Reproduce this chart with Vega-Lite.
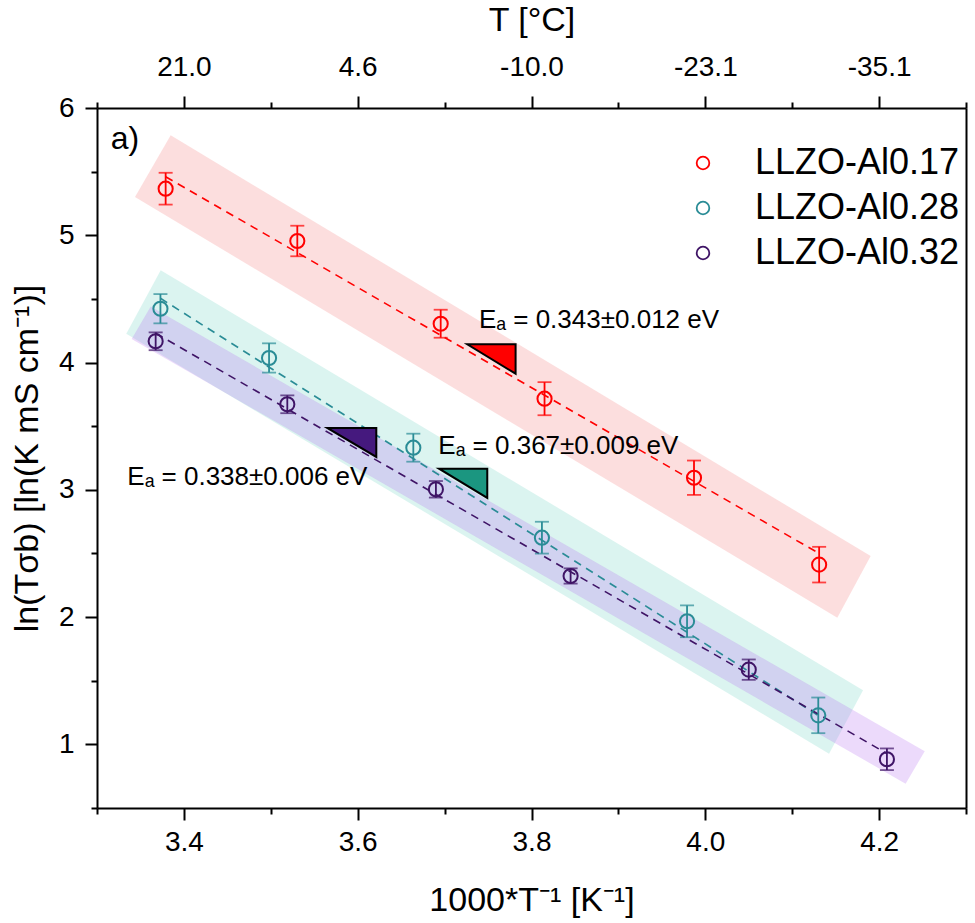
{
  "$schema": "https://vega.github.io/schema/vega-lite/v6.json",
  "width": 869,
  "height": 700,
  "padding": {"left": 10, "top": 3, "right": 5, "bottom": 5},
  "background": "white",
  "config": {
    "view": {"stroke": null},
    "font": "Liberation Sans",
    "axis": {
      "grid": false,
      "domainColor": "black",
      "domainWidth": 2,
      "tickColor": "black",
      "tickWidth": 2,
      "labelColor": "black",
      "titleColor": "black",
      "labelFont": "Liberation Sans",
      "titleFont": "Liberation Sans",
      "labelFontSize": 28,
      "titleFontSize": 34,
      "titleFontWeight": "normal",
      "labelOverlap": false,
      "labelFlush": false
    },
    "legend": {
      "labelFontSize": 36,
      "labelFont": "Liberation Sans",
      "labelColor": "black",
      "labelLimit": 500,
      "symbolType": "circle",
      "symbolSize": 160,
      "symbolStrokeWidth": 1.8,
      "labelOffset": 34,
      "rowPadding": 9,
      "padding": 0
    }
  },
  "datasets": {
    "bands": [
      {"series": "LLZO-Al0.17", "order": 1, "x": 3.3848, "y": 5.785},
      {"series": "LLZO-Al0.17", "order": 2, "x": 4.1903, "y": 2.48},
      {"series": "LLZO-Al0.17", "order": 3, "x": 4.1519, "y": 1.995},
      {"series": "LLZO-Al0.17", "order": 4, "x": 3.3437, "y": 5.301},
      {"series": "LLZO-Al0.28", "order": 1, "x": 3.3733, "y": 4.725},
      {"series": "LLZO-Al0.28", "order": 2, "x": 4.1815, "y": 1.425},
      {"series": "LLZO-Al0.28", "order": 3, "x": 4.1424, "y": 0.927},
      {"series": "LLZO-Al0.28", "order": 4, "x": 3.3337, "y": 4.227},
      {"series": "LLZO-Al0.32", "order": 1, "x": 3.3618, "y": 4.44},
      {"series": "LLZO-Al0.32", "order": 2, "x": 4.2525, "y": 0.946},
      {"series": "LLZO-Al0.32", "order": 3, "x": 4.2305, "y": 0.691},
      {"series": "LLZO-Al0.32", "order": 4, "x": 3.3399, "y": 4.185}
    ],
    "points": [
      {"series": "LLZO-Al0.17", "x": 3.379, "y": 5.366, "err": 0.125},
      {"series": "LLZO-Al0.17", "x": 3.5305, "y": 4.955, "err": 0.12},
      {"series": "LLZO-Al0.17", "x": 3.6955, "y": 4.305, "err": 0.11},
      {"series": "LLZO-Al0.17", "x": 3.815, "y": 3.716, "err": 0.13},
      {"series": "LLZO-Al0.17", "x": 3.987, "y": 3.095, "err": 0.135},
      {"series": "LLZO-Al0.17", "x": 4.131, "y": 2.412, "err": 0.14},
      {"series": "LLZO-Al0.28", "x": 3.373, "y": 4.423, "err": 0.115},
      {"series": "LLZO-Al0.28", "x": 3.498, "y": 4.036, "err": 0.115},
      {"series": "LLZO-Al0.28", "x": 3.664, "y": 3.331, "err": 0.11},
      {"series": "LLZO-Al0.28", "x": 3.812, "y": 2.624, "err": 0.125},
      {"series": "LLZO-Al0.28", "x": 3.979, "y": 1.967, "err": 0.125},
      {"series": "LLZO-Al0.28", "x": 4.13, "y": 1.228, "err": 0.14},
      {"series": "LLZO-Al0.32", "x": 3.3675, "y": 4.167, "err": 0.07},
      {"series": "LLZO-Al0.32", "x": 3.519, "y": 3.672, "err": 0.07},
      {"series": "LLZO-Al0.32", "x": 3.69, "y": 3.004, "err": 0.065},
      {"series": "LLZO-Al0.32", "x": 3.845, "y": 2.323, "err": 0.06},
      {"series": "LLZO-Al0.32", "x": 4.05, "y": 1.587, "err": 0.08},
      {"series": "LLZO-Al0.32", "x": 4.209, "y": 0.883, "err": 0.085}
    ],
    "fits": [
      {"series": "LLZO-Al0.17", "x": 3.379, "y": 5.46},
      {"series": "LLZO-Al0.17", "x": 4.131, "y": 2.5},
      {"series": "LLZO-Al0.28", "x": 3.373, "y": 4.505},
      {"series": "LLZO-Al0.28", "x": 4.13, "y": 1.227},
      {"series": "LLZO-Al0.32", "x": 3.3675, "y": 4.23},
      {"series": "LLZO-Al0.32", "x": 4.209, "y": 0.928}
    ],
    "tri": [
      {"series": "LLZO-Al0.17", "order": 1, "x": 3.7261, "y": 4.1433},
      {"series": "LLZO-Al0.17", "order": 2, "x": 3.7817, "y": 4.1433},
      {"series": "LLZO-Al0.17", "order": 3, "x": 3.7817, "y": 3.9123},
      {"series": "LLZO-Al0.28", "order": 1, "x": 3.6936, "y": 3.166},
      {"series": "LLZO-Al0.28", "order": 2, "x": 3.7491, "y": 3.166},
      {"series": "LLZO-Al0.28", "order": 3, "x": 3.7491, "y": 2.936},
      {"series": "LLZO-Al0.32", "order": 1, "x": 3.565, "y": 3.486},
      {"series": "LLZO-Al0.32", "order": 2, "x": 3.6214, "y": 3.486},
      {"series": "LLZO-Al0.32", "order": 3, "x": 3.6214, "y": 3.258}
    ],
    "notes": [
      {"x": 3.7396, "y": 4.274, "label": "Eₐ = 0.343±0.012 eV"},
      {"x": 3.6928, "y": 3.284, "label": "Eₐ = 0.367±0.009 eV"},
      {"x": 3.3349, "y": 3.035, "label": "Eₐ = 0.338±0.006 eV"}
    ],
    "panel": [
      {"x": 3.3158, "y": 5.68, "label": "a)"}
    ]
  },
  "encoding": {
    "x": {"field": "x", "type": "quantitative", "scale": {"domain": [3.3, 4.3], "nice": false, "zero": false}, "axis": null},
    "y": {"field": "y", "type": "quantitative", "scale": {"domain": [0.5, 6], "nice": false, "zero": false}, "axis": null}
  },
  "resolve": {"axis": {"x": "independent", "y": "independent"}},
  "layer": [
    {
      "data": {"name": "bands"},
      "transform": [{"filter": "datum.series == 'LLZO-Al0.17'"}],
      "mark": {"type": "line", "interpolate": "linear-closed", "fill": "#F36B6B", "fillOpacity": 0.22, "strokeWidth": 0},
      "encoding": {
        "order": {"field": "order"},
        "x": {
          "field": "x", "type": "quantitative",
          "scale": {"domain": [3.3, 4.3], "nice": false, "zero": false},
          "axis": {
            "orient": "bottom",
            "values": [3.3, 3.4, 3.5, 3.6, 3.7, 3.8, 3.9, 4.0, 4.1, 4.2, 4.3],
            "labelExpr": "round(datum.value*10) % 2 == 0 ? format(datum.value, '.1f') : ''",
            "tickSize": {"condition": {"test": "round(datum.value*10) % 2 == 0", "value": 12}, "value": 6},
            "labelPadding": 8,
            "title": "1000*T⁻¹ [K⁻¹]",
            "titlePadding": 27
          }
        },
        "y": {
          "field": "y", "type": "quantitative",
          "scale": {"domain": [0.5, 6], "nice": false, "zero": false},
          "axis": {
            "orient": "left",
            "values": [0.5, 1, 1.5, 2, 2.5, 3, 3.5, 4, 4.5, 5, 5.5, 6],
            "labelExpr": "datum.value % 1 == 0 ? format(datum.value, 'd') : ''",
            "tickSize": {"condition": {"test": "datum.value % 1 == 0", "value": 12}, "value": 6},
            "labelPadding": 11,
            "title": "ln(Tσb) [ln(K mS cm⁻¹)]",
            "titlePadding": 14
          }
        }
      }
    },
    {
      "data": {"name": "bands"},
      "transform": [{"filter": "datum.series == 'LLZO-Al0.28'"}],
      "mark": {"type": "line", "interpolate": "linear-closed", "fill": "#6FD3C3", "fillOpacity": 0.25, "strokeWidth": 0},
      "encoding": {"order": {"field": "order"}}
    },
    {
      "data": {"name": "bands"},
      "transform": [{"filter": "datum.series == 'LLZO-Al0.32'"}],
      "mark": {"type": "line", "interpolate": "linear-closed", "fill": "#B36CF0", "fillOpacity": 0.25, "strokeWidth": 0},
      "encoding": {"order": {"field": "order"}}
    },
    {
      "data": {"name": "fits"},
      "mark": {"type": "line", "strokeDash": [8, 6], "strokeWidth": 1.6},
      "encoding": {
        "detail": {"field": "series"},
        "color": {"field": "series", "type": "nominal",
          "scale": {"domain": ["LLZO-Al0.17", "LLZO-Al0.28", "LLZO-Al0.32"], "range": ["#FF0000", "#2A8C96", "#3F1466"]}}
      }
    },
    {
      "data": {"name": "points"},
      "transform": [{"filter": "datum.series == 'LLZO-Al0.17'"}],
      "mark": {"type": "errorbar", "color": "#FF0000", "thickness": 1.8, "ticks": {"size": 14, "thickness": 1.8, "color": "#FF0000"}},
      "encoding": {"yError": {"field": "err"}}
    },
    {
      "data": {"name": "points"},
      "transform": [{"filter": "datum.series == 'LLZO-Al0.28'"}],
      "mark": {"type": "errorbar", "color": "#2A8C96", "thickness": 1.8, "ticks": {"size": 14, "thickness": 1.8, "color": "#2A8C96"}},
      "encoding": {"yError": {"field": "err"}}
    },
    {
      "data": {"name": "points"},
      "transform": [{"filter": "datum.series == 'LLZO-Al0.32'"}],
      "mark": {"type": "errorbar", "color": "#3F1466", "thickness": 1.8, "ticks": {"size": 14, "thickness": 1.8, "color": "#3F1466"}},
      "encoding": {"yError": {"field": "err"}}
    },
    {
      "data": {"name": "points"},
      "mark": {"type": "point", "shape": "circle", "filled": false, "size": 200, "strokeWidth": 2, "opacity": 1},
      "encoding": {
        "color": {"field": "series", "type": "nominal",
          "scale": {"domain": ["LLZO-Al0.17", "LLZO-Al0.28", "LLZO-Al0.32"], "range": ["#FF0000", "#2A8C96", "#3F1466"]},
          "legend": {"title": null, "orient": "none", "legendX": 588, "legendY": 37, "symbolType": "circle"}
        }
      }
    },
    {
      "data": {"name": "tri"},
      "transform": [{"filter": "datum.series == 'LLZO-Al0.17'"}],
      "mark": {"type": "line", "interpolate": "linear-closed", "fill": "#FF0000", "stroke": "black", "strokeWidth": 2},
      "encoding": {"order": {"field": "order"}}
    },
    {
      "data": {"name": "tri"},
      "transform": [{"filter": "datum.series == 'LLZO-Al0.28'"}],
      "mark": {"type": "line", "interpolate": "linear-closed", "fill": "#1B9680", "stroke": "black", "strokeWidth": 2},
      "encoding": {"order": {"field": "order"}}
    },
    {
      "data": {"name": "tri"},
      "transform": [{"filter": "datum.series == 'LLZO-Al0.32'"}],
      "mark": {"type": "line", "interpolate": "linear-closed", "fill": "#45197E", "stroke": "black", "strokeWidth": 2},
      "encoding": {"order": {"field": "order"}}
    },
    {
      "data": {"name": "notes"},
      "mark": {"type": "text", "align": "left", "baseline": "alphabetic", "fontSize": 26, "font": "Liberation Sans", "color": "black"},
      "encoding": {"text": {"field": "label"}}
    },
    {
      "data": {"name": "panel"},
      "mark": {"type": "text", "align": "left", "baseline": "alphabetic", "fontSize": 32, "font": "Liberation Sans", "color": "black"},
      "encoding": {
        "text": {"field": "label"},
        "x": {
          "field": "x", "type": "quantitative",
          "scale": {"domain": [3.3, 4.3], "nice": false, "zero": false},
          "axis": {
            "orient": "top",
            "values": [3.3, 3.4, 3.5, 3.6, 3.7, 3.8, 3.9, 4.0, 4.1, 4.2, 4.3],
            "labelExpr": "round(datum.value*10) % 2 == 0 ? ((1000/datum.value - 273.15) < 0 ? '-' : '') + format(abs(1000/datum.value - 273.15), '.1f') : ''",
            "tickSize": {"condition": {"test": "round(datum.value*10) % 2 == 0", "value": 12}, "value": 6},
            "labelPadding": 15,
            "title": "T [°C]",
            "titlePadding": 16
          }
        },
        "y": {
          "field": "y", "type": "quantitative",
          "scale": {"domain": [0.5, 6], "nice": false, "zero": false},
          "axis": {"orient": "right", "ticks": false, "labels": false, "title": null}
        }
      }
    }
  ]
}
